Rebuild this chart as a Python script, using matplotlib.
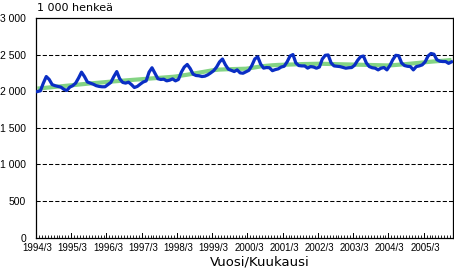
import numpy as np
import matplotlib
matplotlib.use("Agg")
import matplotlib.pyplot as plt
from matplotlib.ticker import FixedLocator

# monthly values, 1994/3 .. 2005/12 (1 000 persons)
employed = [
    1995, 2005, 2110, 2200, 2160, 2090, 2075, 2065, 2055, 2025, 2010, 2055,
    2075, 2110, 2180, 2260, 2200, 2125, 2110, 2095, 2075, 2065, 2060, 2060,
    2090, 2120, 2200, 2268, 2170, 2120, 2110, 2123, 2090, 2050, 2065, 2096,
    2125, 2140, 2260, 2320, 2245, 2170, 2160, 2164, 2141, 2150, 2168, 2141,
    2160, 2260, 2330, 2365, 2310, 2232, 2214, 2210, 2200, 2205, 2223, 2250,
    2280, 2330, 2400, 2440, 2360, 2300, 2285, 2268, 2291, 2250, 2245, 2265,
    2285, 2350, 2440, 2470, 2370, 2315, 2323, 2320, 2280, 2295, 2305, 2330,
    2340, 2400, 2480, 2500, 2385, 2350, 2345, 2345, 2315, 2336, 2330, 2314,
    2330, 2440, 2490, 2495, 2385, 2345, 2340, 2336, 2325, 2314, 2320, 2323,
    2355, 2420, 2470, 2480, 2385, 2336, 2320, 2314, 2291, 2314, 2323, 2291,
    2350, 2430, 2490, 2485, 2385, 2350, 2340, 2336, 2291, 2336, 2345, 2359,
    2400, 2480, 2515, 2505, 2430, 2410, 2405, 2405, 2380, 2400,
]

trend = [
    2035, 2039, 2043, 2047, 2051, 2055, 2060, 2064, 2068, 2072, 2076, 2080,
    2084, 2088, 2092, 2096, 2099, 2103, 2106, 2109, 2113, 2116, 2120, 2124,
    2127, 2130, 2133, 2137, 2140, 2144, 2147, 2150, 2153, 2156, 2159, 2162,
    2165, 2168, 2171, 2174, 2177, 2180, 2183, 2186, 2189, 2193, 2196, 2200,
    2206, 2212, 2218, 2225, 2232, 2239, 2246, 2253, 2260, 2267, 2274, 2282,
    2288, 2292, 2295, 2297, 2299, 2300, 2301, 2302, 2303, 2304, 2305, 2307,
    2312, 2318, 2325, 2332, 2338, 2343, 2347, 2351, 2354, 2357, 2359, 2360,
    2361, 2362, 2364, 2365, 2367, 2368, 2370, 2371, 2372, 2373, 2374, 2375,
    2375, 2374, 2373, 2372, 2371, 2370, 2369, 2368, 2367, 2366, 2365, 2364,
    2363, 2362, 2361, 2360, 2358, 2357, 2356, 2355, 2354, 2353, 2352, 2352,
    2353, 2355, 2358, 2361, 2364, 2368, 2372, 2376, 2380, 2384, 2388, 2392,
    2396, 2400, 2403, 2406, 2409, 2412, 2415, 2419, 2423, 2427,
]

year_labels = ["1994/3", "1995/3", "1996/3", "1997/3", "1998/3", "1999/3",
               "2000/3", "2001/3", "2002/3", "2003/3", "2004/3", "2005/3"]
y_values = [0, 500, 1000, 1500, 2000, 2500, 3000]
y_labels = ["0", "500", "1 000", "1 500", "2 000", "2 500", "3 000"]

TICK_FONT = ["Liberation Sans Narrow", "Liberation Sans", "DejaVu Sans"]


def main():
    fig = plt.figure(figsize=(4.54, 2.76), dpi=100)
    ax = fig.add_axes([36 / 454, 1 - 237.5 / 276, 417 / 454, 219.5 / 276])

    months = np.arange(len(employed))
    ax.plot(months, trend, color="#84d484", lw=3.0, solid_capstyle="butt",
            zorder=2)
    ax.plot(months, employed, color="#0a2ec4", lw=2.3, zorder=3)

    ax.set_xlim(-0.5, len(employed) - 0.5)
    ax.set_ylim(0, 3000)

    # gridlines
    for v in y_values[1:-1]:
        ax.axhline(v, color="black", lw=0.75, ls=(0, (4, 2)), zorder=1)

    ax.set_yticks(y_values)
    ax.set_yticklabels(y_labels, family=TICK_FONT, fontsize=7.5)
    ax.tick_params(axis="y", length=0, pad=7)

    ax.set_xticks(np.arange(0, len(employed), 12))
    ax.set_xticklabels(year_labels, family=TICK_FONT, fontsize=7)
    ax.xaxis.set_minor_locator(FixedLocator(np.arange(-0.5, len(employed), 1)))
    ax.tick_params(axis="x", which="major", direction="in", length=0, pad=4)
    ax.tick_params(axis="x", which="minor", direction="in", length=2,
                   width=0.6)
    # yearly ticks drawn longer
    for i in np.arange(-0.5, len(employed), 12):
        ax.plot([i, i], [0, 55], color="black", lw=0.7, clip_on=False,
                zorder=4)

    for s in ax.spines.values():
        s.set_linewidth(0.9)
        s.set_color("black")

    fig.text(37 / 454, 1 - 8 / 276, "1 000 henkeä", fontsize=8,
             family="DejaVu Sans", ha="left", va="center")
    fig.text(260 / 454, 1 - 262 / 276, "Vuosi/Kuukausi", fontsize=9.5,
             family="DejaVu Sans", ha="center", va="center")

    fig.savefig("out.png", dpi=100)


if __name__ == "__main__":
    main()
